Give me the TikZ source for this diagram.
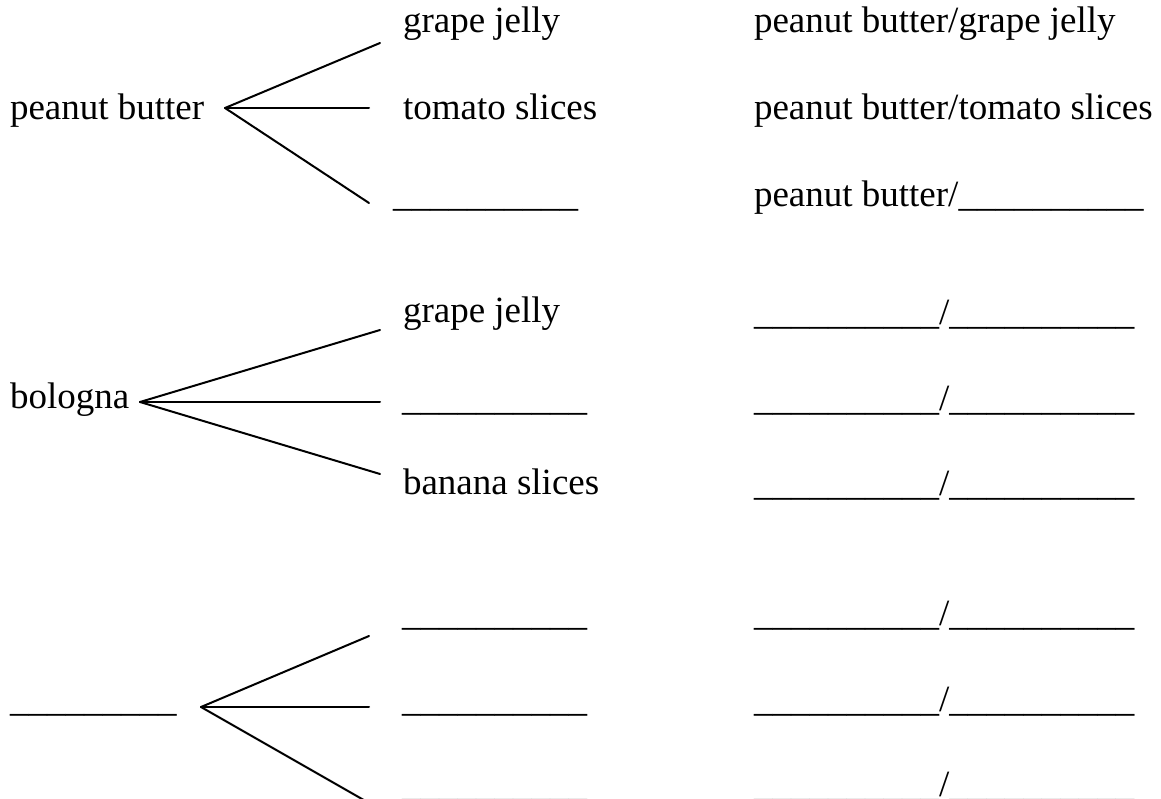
\documentclass[tikz,border=0pt]{standalone}
\usepackage{fontspec}
\setmainfont{Liberation Serif}
\newcommand{\blankx}{\_\_\_\_\_\_\_\_\_\_}
\newcommand{\blankix}{\_\_\_\_\_\_\_\_\_}
\tikzset{
  lbl/.style={anchor=base west, inner sep=0pt, outer sep=0pt, font=\fontsize{37}{44}\selectfont},
  branch/.style={line width=2pt, line cap=round, line join=round}
}
\begin{document}
\begin{tikzpicture}[x=1pt,y=-1pt]
\useasboundingbox (0,0) rectangle (1161,799);
\clip (0,0) rectangle (1161,799);
% ---------- group 1 ----------
\node[lbl] (pb) at (10,120) {peanut butter};
\coordinate (f1) at (225,108);
\coordinate (e11) at (380,43);
\coordinate (e12) at (369,108);
\coordinate (e13) at (369,203);
\draw[branch] (f1) -- (e11);
\draw[branch] (f1) -- (e12);
\draw[branch] (f1) -- (e13);
\node[lbl] (m11) at (403,33) {grape jelly};
\node[lbl] (m12) at (403,120) {tomato slices};
\node[lbl] (m13) at (393,207) {\blankx};
\node[lbl] (r11) at (754,33) {peanut butter/grape jelly};
\node[lbl] (r12) at (754,120) {peanut butter/tomato slices};
\node[lbl] (r13) at (754,207) {peanut butter/\blankx};
% ---------- group 2 ----------
\node[lbl] (bo) at (10,408) {bologna};
\coordinate (f2) at (140,402);
\coordinate (e21) at (380,330);
\coordinate (e22) at (380,402);
\coordinate (e23) at (380,474);
\draw[branch] (f2) -- (e21);
\draw[branch] (f2) -- (e22);
\draw[branch] (f2) -- (e23);
\node[lbl] (m21) at (403,323) {grape jelly};
\node[lbl] (m22) at (402,410) {\blankx};
\node[lbl] (m23) at (403,494) {banana slices};
\node[lbl] (r21) at (754,325) {\blankx/\blankx};
\node[lbl] (r22) at (754,410) {\blankx/\blankx};
\node[lbl] (r23) at (754,495) {\blankx/\blankx};
% ---------- group 3 ----------
\node[lbl] (bl) at (10,711) {\blankix};
\coordinate (f3) at (201,707);
\coordinate (e31) at (369,636);
\coordinate (e32) at (369,707);
\coordinate (e33) at (369,803);
\draw[branch] (f3) -- (e31);
\draw[branch] (f3) -- (e32);
\draw[branch] (f3) -- (e33);
\node[lbl] (m31) at (402,625) {\blankx};
\node[lbl] (m32) at (402,711) {\blankx};
\node[lbl] (m33) at (402,796.5) {\blankx};
\node[lbl] (r31) at (754,625) {\blankx/\blankx};
\node[lbl] (r32) at (754,711) {\blankx/\blankx};
\node[lbl] (r33) at (754,796.5) {\blankx/\blankx};
\end{tikzpicture}
\end{document}
